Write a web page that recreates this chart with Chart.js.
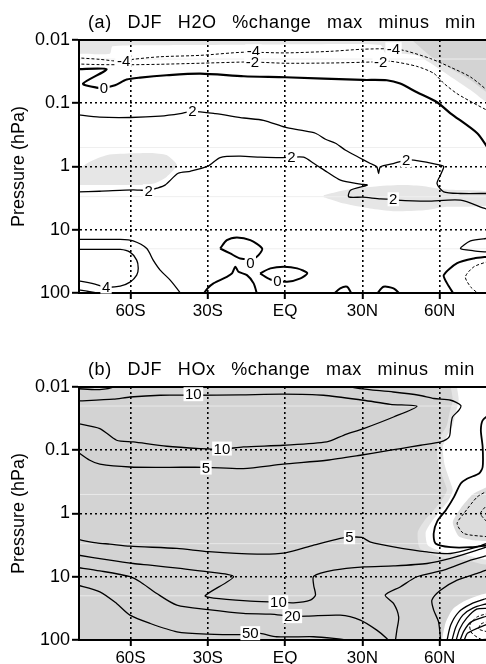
<!DOCTYPE html>
<html>
<head>
<meta charset="utf-8">
<script src="https://cdn.jsdelivr.net/npm/chart.js@4.4.0/dist/chart.umd.min.js"></script>
<style>
  html, body { margin: 0; padding: 0; background: #fff; }
  canvas { display: block; }
</style>
</head>
<body>
<canvas id="h2o" width="486" height="332"></canvas>
<canvas id="hox" width="486" height="332"></canvas>
<script>
// axes
const latTicks = [-60, -30, 0, 30, 60];
const latLabels = ['60S', '30S', 'EQ', '30N', '60N'];
const pTicks = [0.01, 0.1, 1, 10, 100];
const pLabels = ['0.01', '0.1', '1', '10', '100'];
const faintLevels = [0.02, 0.5, 3, 20];

// (a) H2O, points are [latitude, pressure hPa]
const h2oShadeTop = [[-81,0.0098],[79,0.0098],[79,0.096],[72,0.062],[65,0.040],[57,0.024],[51,0.0175],[45,0.0165],[39,0.0162],[37,0.0119],[6,0.0117],[-16,0.0119],[-48,0.0121],[-67,0.0126],[-68,0.0165],[-81,0.0165]];
const h2oShadeDark = [[49,0.0098],[79,0.0098],[79,0.067],[72,0.043],[64,0.028],[57,0.0188],[52,0.0126],[49,0.0098]];
const h2oShade1 = [[-81,1.97],[-81,1.23],[-76,0.85],[-69,0.66],[-59,0.62],[-52,0.61],[-46,0.66],[-42,0.95],[-46,1.46],[-51,1.86],[-56,1.97]];
const h2oShade3 = [[15,2.84],[20,2.52],[27,2.23],[36,2.05],[46,1.97],[54,2.05],[62,2.31],[79,2.52],[79,4.08],[62,4.35],[54,4.9],[42,5.08],[33,4.61],[23,3.85],[15,3.05]];

const h2oMinus4 = [[-81,0.0191],[-72,0.0202],[-67,0.0213],[-63,0.0217],[-59,0.0202],[-48.5,0.0184],[-33,0.0175],[-16,0.0156],[0,0.016],[17.6,0.0151],[30,0.014],[42,0.0138],[47,0.0149],[56.5,0.0197],[64,0.0267],[72,0.0385],[79,0.065]];
const h2oMinus2 = [[-81,0.0239],[-72,0.0245],[-60,0.0246],[-48.5,0.0242],[-33,0.0233],[-16,0.0223],[-12,0.0223],[0,0.0233],[17.6,0.0231],[30,0.0225],[36,0.0221],[41,0.0217],[51,0.026],[57.7,0.0336],[61.6,0.0483],[66.7,0.0703],[73.3,0.1],[79,0.133]];
const h2oZero = [[-81,0.029],[-69.3,0.029],[-78.4,0.0489],[-73.2,0.0565],[-70,0.0565],[-66,0.052],[-61.5,0.0422],[-56.3,0.0393],[-46,0.0361],[-33,0.034],[-16,0.0374],[0,0.0388],[30,0.0428],[39.5,0.0433],[44.7,0.0489],[51.2,0.067],[59,0.0964],[64.2,0.144],[74.6,0.298],[79,0.53]];
const h2oTwoUpper = [[-81,0.151],[-72,0.166],[-60,0.168],[-48.5,0.160],[-40.7,0.146],[-36,0.134],[-27,0.146],[-16,0.171],[-8.4,0.186],[0,0.239],[6,0.267],[11.8,0.298],[15.7,0.371],[19.6,0.429],[23.5,0.553],[28.5,0.713],[33.1,0.897],[35.6,1.01],[36.3,1.29],[37,1.01],[42,0.897],[47,0.795],[50,0.795],[60.3,0.953],[61.6,1.01],[60.3,1.37],[59,1.86],[61.6,2.52],[68,2.67],[79,2.67]];
const h2oTwoLower = [[-81,2.52],[-72,2.46],[-59,2.34],[-56.3,2.37],[-52.8,2.37],[-49.7,2.2],[-46.6,1.97],[-41.5,1.28],[-36.8,1.19],[-30,0.989],[-25.2,0.721],[-17.4,0.687],[-9.6,0.713],[-1.8,0.726],[2.5,0.713],[7.2,0.713],[11.1,0.887],[16.3,1.22],[21.5,1.64],[29.3,1.9],[31.9,1.97],[25.4,2.37],[24.7,3.02],[30.1,3.05],[37.1,3.25],[41.8,3.29],[43.4,3.41],[55.1,3.53],[68.1,3.41],[77.2,4.56],[79,4.8]];
const h2oLowA = [[-81,14.2],[-72,14.2],[-64,14.2],[-59,15.0],[-53.7,19.8],[-51.2,30.2],[-48.5,43.4],[-44.6,62.5],[-40.7,99.3],[-38.8,129]];
const h2oLowB = [[-81,20.5],[-72,20.5],[-64,20.5],[-60.2,22.6],[-57.6,30.2],[-57,40.5],[-57.6,52.1],[-60.2,67.3],[-64,77.8],[-69.5,80.7],[-73.8,72.3],[-79.6,64.9],[-81,64]];
const h2oLowC = [[-81,87.7],[-73.3,99.3],[-71.9,104]];
const h2oBump1 = [[-31.7,104],[-30,83.7],[-27.8,70.5],[-22.6,55.5],[-20.6,49],[-19.3,38.5],[-18.1,46.2],[-14.8,52.1],[-12.2,70.5],[-10.9,104]];
const h2oLoop1 = [[-25.2,19.8],[-22.6,14.6],[-18.7,13.2],[-13.5,14.6],[-8.9,19.8],[-10.3,25.2],[-12.2,28.4],[-17.4,28.4],[-21.3,23.7],[-25.2,19.8]];
const h2oLoop2 = [[-9.7,49],[-5.7,40.8],[-0.5,38.5],[4.7,40.8],[8.6,48.5],[6,58.8],[0.8,66.5],[-5.7,61],[-9.7,49]];
const h2oBump2 = [[18.8,104],[21.4,84.6],[24.1,79.8],[25.4,95.7],[25.8,104]];
const h2oBump3 = [[35.6,104],[38.2,79.8],[42.1,84.6],[44.7,104]];
const h2oRightA = [[79,13.6],[72,15.0],[68.1,19.8],[73.3,21.5],[79,22.6]];
const h2oRightB = [[65.5,104],[62.9,70.5],[61.6,52.1],[66.8,33.7],[73.3,28.4],[79,26.6]];
const h2oRightDash = [[79,31.5],[73.3,38.5],[70,55.5],[72,79.8],[74.6,99.3],[75,104]];
const h2oLabels = [[-62.7,0.0217,'-4'],[-12.3,0.0151,'-4'],[42.1,0.014,'-4'],[-12.7,0.0223,'-2'],[37.1,0.0221,'-2'],[-70.3,0.0569,'0'],[-36,0.134,'2'],[47,0.795,'2'],[-53,2.46,'2'],[2.5,0.713,'2'],[42,3.3,'2'],[-69.5,79,'4'],[-13.5,33,'0'],[-3,65,'0']];

// (b) HOx
const hoxShade = [[-81,0.0098],[79,0.0098],[79,104],[-81,104]];
const hoxFringe = [[64.3,0.0098],[65.1,0.0162],[63.9,0.0251],[62.8,0.0403],[60.4,0.0601],[58.9,0.0897],[59.6,0.173],[61.6,0.298],[62.8,0.429],[60.8,0.617],[57.7,0.887],[54.2,1.28],[51.5,1.97],[52.3,3.53],[60.4,4.9],[70.5,5.47],[79,6.1],[79,0.0098]];
const hoxWhiteTop = [[66.7,0.0098],[67.4,0.0162],[66.3,0.0251],[65.1,0.0403],[62.8,0.0601],[61.2,0.0897],[62,0.173],[63.9,0.298],[65.1,0.429],[63.5,0.617],[60.4,0.887],[57.3,1.28],[54.6,1.97],[55.4,3.17],[61.6,4.08],[70.5,4.56],[79,5.08],[79,0.0098]];
const hoxGrayPatch = [[79,0.371],[72.9,0.496],[68.2,0.825],[65.1,1.37],[67.4,2.29],[72.9,2.64],[79,2.74]];
const hoxWhiteLow = [[60.8,104],[62.4,52.1],[65.1,32.5],[70.5,23.4],[79,18.8],[79,104]];

const hoxFiveTop = [[-81,0.0106],[-72,0.011],[-66,0.00975],[-64,0.0078],[21,0.0078],[25,0.00975],[29,0.0106],[42,0.012],[52,0.0135],[57.8,0.0152],[64.3,0.0162],[68.2,0.0195],[67.5,0.0233],[65,0.0298],[64.3,0.0428],[63.7,0.0617],[60.4,0.0739],[52.6,0.0834],[44.9,0.094],[38.2,0.104],[29.2,0.12],[16.2,0.144],[-0.7,0.166],[-16.2,0.195],[-30.6,0.186],[-45.9,0.186],[-60.2,0.184],[-71.9,0.166],[-75.8,0.144],[-81,0.103]];
const hoxTenTop = [[-81,0.0167],[-66.6,0.0156],[-60.2,0.0144],[-48.5,0.0135],[-35.7,0.0135],[-17.4,0.0133],[-0.7,0.013],[14.9,0.0135],[30.5,0.0162],[40.9,0.0188],[51.2,0.0202],[42.1,0.0298],[30.5,0.0454],[22.7,0.058],[16.2,0.0739],[-0.7,0.0834],[-16.2,0.0887],[-24.8,0.0964],[-33,0.094],[-45.9,0.0865],[-58.9,0.0739],[-65.4,0.0695],[-71.9,0.0454],[-81,0.0375]];
const hoxFiveMid = [[-81,2.55],[-73.2,2.91],[-68,3.05],[-60.2,3.29],[-42,3.57],[-29.7,4.01],[-10.9,4.39],[0.1,4.19],[11.1,3.17],[21.4,2.48],[25,2.37],[29.8,2.39],[33.2,2.84],[42.1,3.37],[55.1,4.05],[64.2,4.29],[74.6,3.37],[79,2.9]];
const hoxTenLow = [[-81,4.5],[-68,5.47],[-58.9,6.17],[-52.4,6.56],[-40.7,7.4],[-29.8,8.37],[-20,10.0],[-31,19.9],[-27.8,21.8],[-14.8,24.0],[-2.6,25.2],[3.3,25.8],[9.8,23.4],[11.8,19.5],[11.1,13.6],[11.1,9.8],[18.9,7.87],[30.6,6.98],[42.1,6.73],[55.1,6.17],[64.2,5.14],[74.6,3.8],[79,3.3]];
const hoxTwenty = [[-81,7.1],[-71.9,8.07],[-60.2,9.96],[-56.3,12.0],[-49.8,18.4],[-42,28.1],[-29.8,33.1],[-16.2,38.0],[-5.7,39.0],[2.8,42.0],[8.6,42.0],[21.4,40.5],[29.2,48.5],[35.6,69.8],[39.5,94.4],[40.2,104]];
const hoxFifty = [[-81,13.4],[-71.9,17.3],[-65.4,26.4],[-60.2,40.5],[-52.4,54.7],[-42,74.1],[-30,80.7],[-16.2,82.2],[-13.5,80.7],[-9.6,78.7],[-3.3,88.9],[11.1,88.9],[18.9,94.4],[24.1,100.5],[25.4,104]];
const hox40N = [[79,4.56],[72,5.47],[61.6,7.87],[51.2,10.0],[44.7,14.5],[38.9,19.5],[42.1,26.4],[44.1,43],[43.4,69.8],[42.8,104]];
const hox60N = [[79,7.6],[74.6,8.87],[66.8,11.3],[60.3,16.3],[57,23.4],[57.7,33.7],[59.6,52.1],[60.4,104]];
const hoxPolarEdge = [[79,0.028],[76.7,0.0336],[76,0.0483],[76.7,0.0887],[76.7,0.184],[75.3,0.233],[70.8,0.28],[68.2,0.336],[65.6,0.547],[62.4,0.887],[59.1,1.32],[57.7,2.05],[58.4,2.98],[64.3,3.41],[72.1,3.41],[79,3.17]];
const hoxDashA = [[79,0.429],[74.6,0.547],[69.4,1.0],[66.8,1.44],[69.4,2.07],[79,2.34]];
const hoxDashB = [[79,0.695],[75.9,1.0],[79,1.44]];
const hoxK1 = [[62.8,104],[64.3,58.1],[67.4,36.2],[72.1,27.1],[79,21.5]];
const hoxK2 = [[64.7,104],[66.3,62.5],[69,40.5],[72.9,31.3],[79,26.2]];
const hoxK3 = [[66.3,104],[67.8,67.1],[70.5,45.1],[74.4,32.5],[79,31.5]];
const hoxK4 = [[67.8,104],[69.4,72.3],[72.1,52.1],[79,41]];
const hoxK5 = [[69.4,104],[70.9,77.6],[79,55]];
const hoxDashC = [[79,37.6],[74.4,43.5],[71.7,58.1],[72.5,77.6],[76,96.8],[79,96.8]];
const hoxDashD = [[79,50.2],[76,56.1],[75.2,67],[79,75]];
const hoxLabels = [[-35.6,0.013,'10'],[-24.5,0.094,'10'],[-30.7,0.188,'5'],[25,2.37,'5'],[-2.6,25.2,'10'],[2.8,42,'20'],[-13.5,78,'50']];

const FONT = '"Liberation Sans", Arial, sans-serif';
const pts = a => a.map(([x, y]) => ({x, y}));

function shade(data, color, order) {
  return {data: pts(data), showLine: true, fill: 'shape', backgroundColor: color,
    borderWidth: 0, pointRadius: 0, tension: 0.2, order: order};
}
function contour(data, extra) {
  return Object.assign({data: pts(data), showLine: true, fill: false, borderColor: '#000',
    borderWidth: 1.3, pointRadius: 0, tension: 0.25, order: 1}, extra || {});
}
function faint(color) {
  return faintLevels.map(p => ({data: pts([[-81, p], [79, p]]), showLine: true, fill: false,
    borderColor: color, borderWidth: 1, pointRadius: 0, order: 5}));
}
const dashed = {borderDash: [3, 2], borderWidth: 1};

const contourLabels = {
  id: 'contourLabels',
  afterDraw(chart, args, opts) {
    const {ctx, scales: {x, y}} = chart;
    ctx.save();
    ctx.font = '15px ' + FONT;
    ctx.textAlign = 'center';
    ctx.textBaseline = 'middle';
    for (const [lat, p, t] of opts.items) {
      const px = x.getPixelForValue(lat), py = y.getPixelForValue(p);
      const w = ctx.measureText(t).width + 3;
      ctx.fillStyle = '#fff';
      ctx.fillRect(px - w / 2, py - 7, w, 14);
      ctx.fillStyle = '#000';
      ctx.fillText(t, px, py + 1);
    }
    ctx.restore();
  }
};

const panelTitle = {
  id: 'panelTitle',
  afterDraw(chart, args, opts) {
    const {ctx, chartArea} = chart;
    ctx.save();
    ctx.font = '18px ' + FONT;
    ctx.wordSpacing = '10px';
    ctx.letterSpacing = '0.6px';
    ctx.fillStyle = '#000';
    ctx.textBaseline = 'alphabetic';
    ctx.fillText(opts.text, chartArea.left + 9, chartArea.top - 12);
    ctx.restore();
  }
};

function makeOptions(title, labels, topH, bottomH) {
  return {
    responsive: false,
    animation: false,
    layout: {padding: 0},
    plugins: {
      legend: {display: false},
      tooltip: {enabled: false},
      panelTitle: {text: title},
      contourLabels: {items: labels}
    },
    scales: {
      x: {
        type: 'linear', position: 'bottom', min: -80, max: 78,
        afterBuildTicks: s => { s.ticks = latTicks.map(v => ({value: v})); },
        afterFit: s => { s.height = bottomH; },
        ticks: {callback: v => latLabels[latTicks.indexOf(v)], color: '#000', padding: 2,
          maxRotation: 0, autoSkip: false, font: {family: FONT, size: 17}},
        grid: {color: '#000', lineWidth: 1.6, tickLength: 6, tickColor: '#000', tickWidth: 2, z: 1},
        border: {display: true, color: '#000', width: 2, dash: [2, 3], z: 1}
      },
      x2: {
        type: 'linear', position: 'top', min: -80, max: 78,
        afterFit: s => { s.height = topH; },
        ticks: {display: false},
        grid: {color: 'rgba(0,0,0,0)', drawTicks: false},
        border: {display: true, color: '#000', width: 2, z: 1}
      },
      y: {
        type: 'logarithmic', position: 'left', reverse: true, min: 0.01, max: 100,
        afterBuildTicks: s => { s.ticks = pTicks.map(v => ({value: v})); },
        afterFit: s => { s.width = 79; },
        ticks: {callback: v => pLabels[pTicks.indexOf(v)], color: '#000', padding: 2,
          autoSkip: false, font: {family: FONT, size: 18}},
        grid: {color: '#000', lineWidth: 1.6, tickLength: 7, tickColor: '#000', tickWidth: 2, z: 1},
        border: {display: true, color: '#000', width: 2, dash: [2, 3], z: 1},
        title: {display: true, text: 'Pressure (hPa)', color: '#000',
          font: {family: FONT, size: 18}, padding: {top: 8, bottom: 0}}
      }
    }
  };
}

new Chart(document.getElementById('h2o'), {
  type: 'scatter',
  data: {
    datasets: [
      shade(h2oShadeTop, '#e6e6e6', 20),
      shade(h2oShadeDark, '#d3d3d3', 19),
      shade(h2oShade1, '#e6e6e6', 20),
      shade(h2oShade3, '#e6e6e6', 20),
      ...faint('#efefef'),
      contour(h2oMinus4, dashed),
      contour(h2oMinus2, dashed),
      contour(h2oZero, {borderWidth: 2.2}),
      contour(h2oTwoUpper),
      contour(h2oTwoLower),
      contour(h2oLowA),
      contour(h2oLowB),
      contour(h2oLowC),
      contour(h2oBump1, {borderWidth: 2}),
      contour(h2oLoop1, {borderWidth: 2}),
      contour(h2oLoop2, {borderWidth: 2}),
      contour(h2oBump2, {borderWidth: 2}),
      contour(h2oBump3, {borderWidth: 2}),
      contour(h2oRightA),
      contour(h2oRightB, {borderWidth: 2}),
      contour(h2oRightDash, dashed)
    ]
  },
  options: makeOptions('(a) DJF H2O %change max minus min', h2oLabels, 40, 39),
  plugins: [contourLabels, panelTitle]
});

new Chart(document.getElementById('hox'), {
  type: 'scatter',
  data: {
    datasets: [
      shade(hoxShade, '#d3d3d3', 40),
      shade(hoxFringe, '#e4e4e4', 30),
      shade(hoxWhiteTop, '#ffffff', 25),
      shade(hoxGrayPatch, '#dcdcdc', 22),
      shade(hoxWhiteLow, '#ffffff', 25),
      ...faint('rgba(255,255,255,0.5)'),
      contour(hoxFiveTop),
      contour(hoxTenTop),
      contour(hoxFiveMid),
      contour(hoxTenLow),
      contour(hoxTwenty),
      contour(hoxFifty),
      contour(hox40N),
      contour(hox60N),
      contour(hoxPolarEdge, {borderWidth: 1.8}),
      contour(hoxDashA, dashed),
      contour(hoxDashB, dashed),
      contour(hoxK1),
      contour(hoxK2),
      contour(hoxK3),
      contour(hoxK4),
      contour(hoxK5),
      contour(hoxDashC, dashed),
      contour(hoxDashD, dashed)
    ]
  },
  options: makeOptions('(b) DJF HOx %change max minus min', hoxLabels, 55, 24),
  plugins: [contourLabels, panelTitle]
});
</script>
</body>
</html>
